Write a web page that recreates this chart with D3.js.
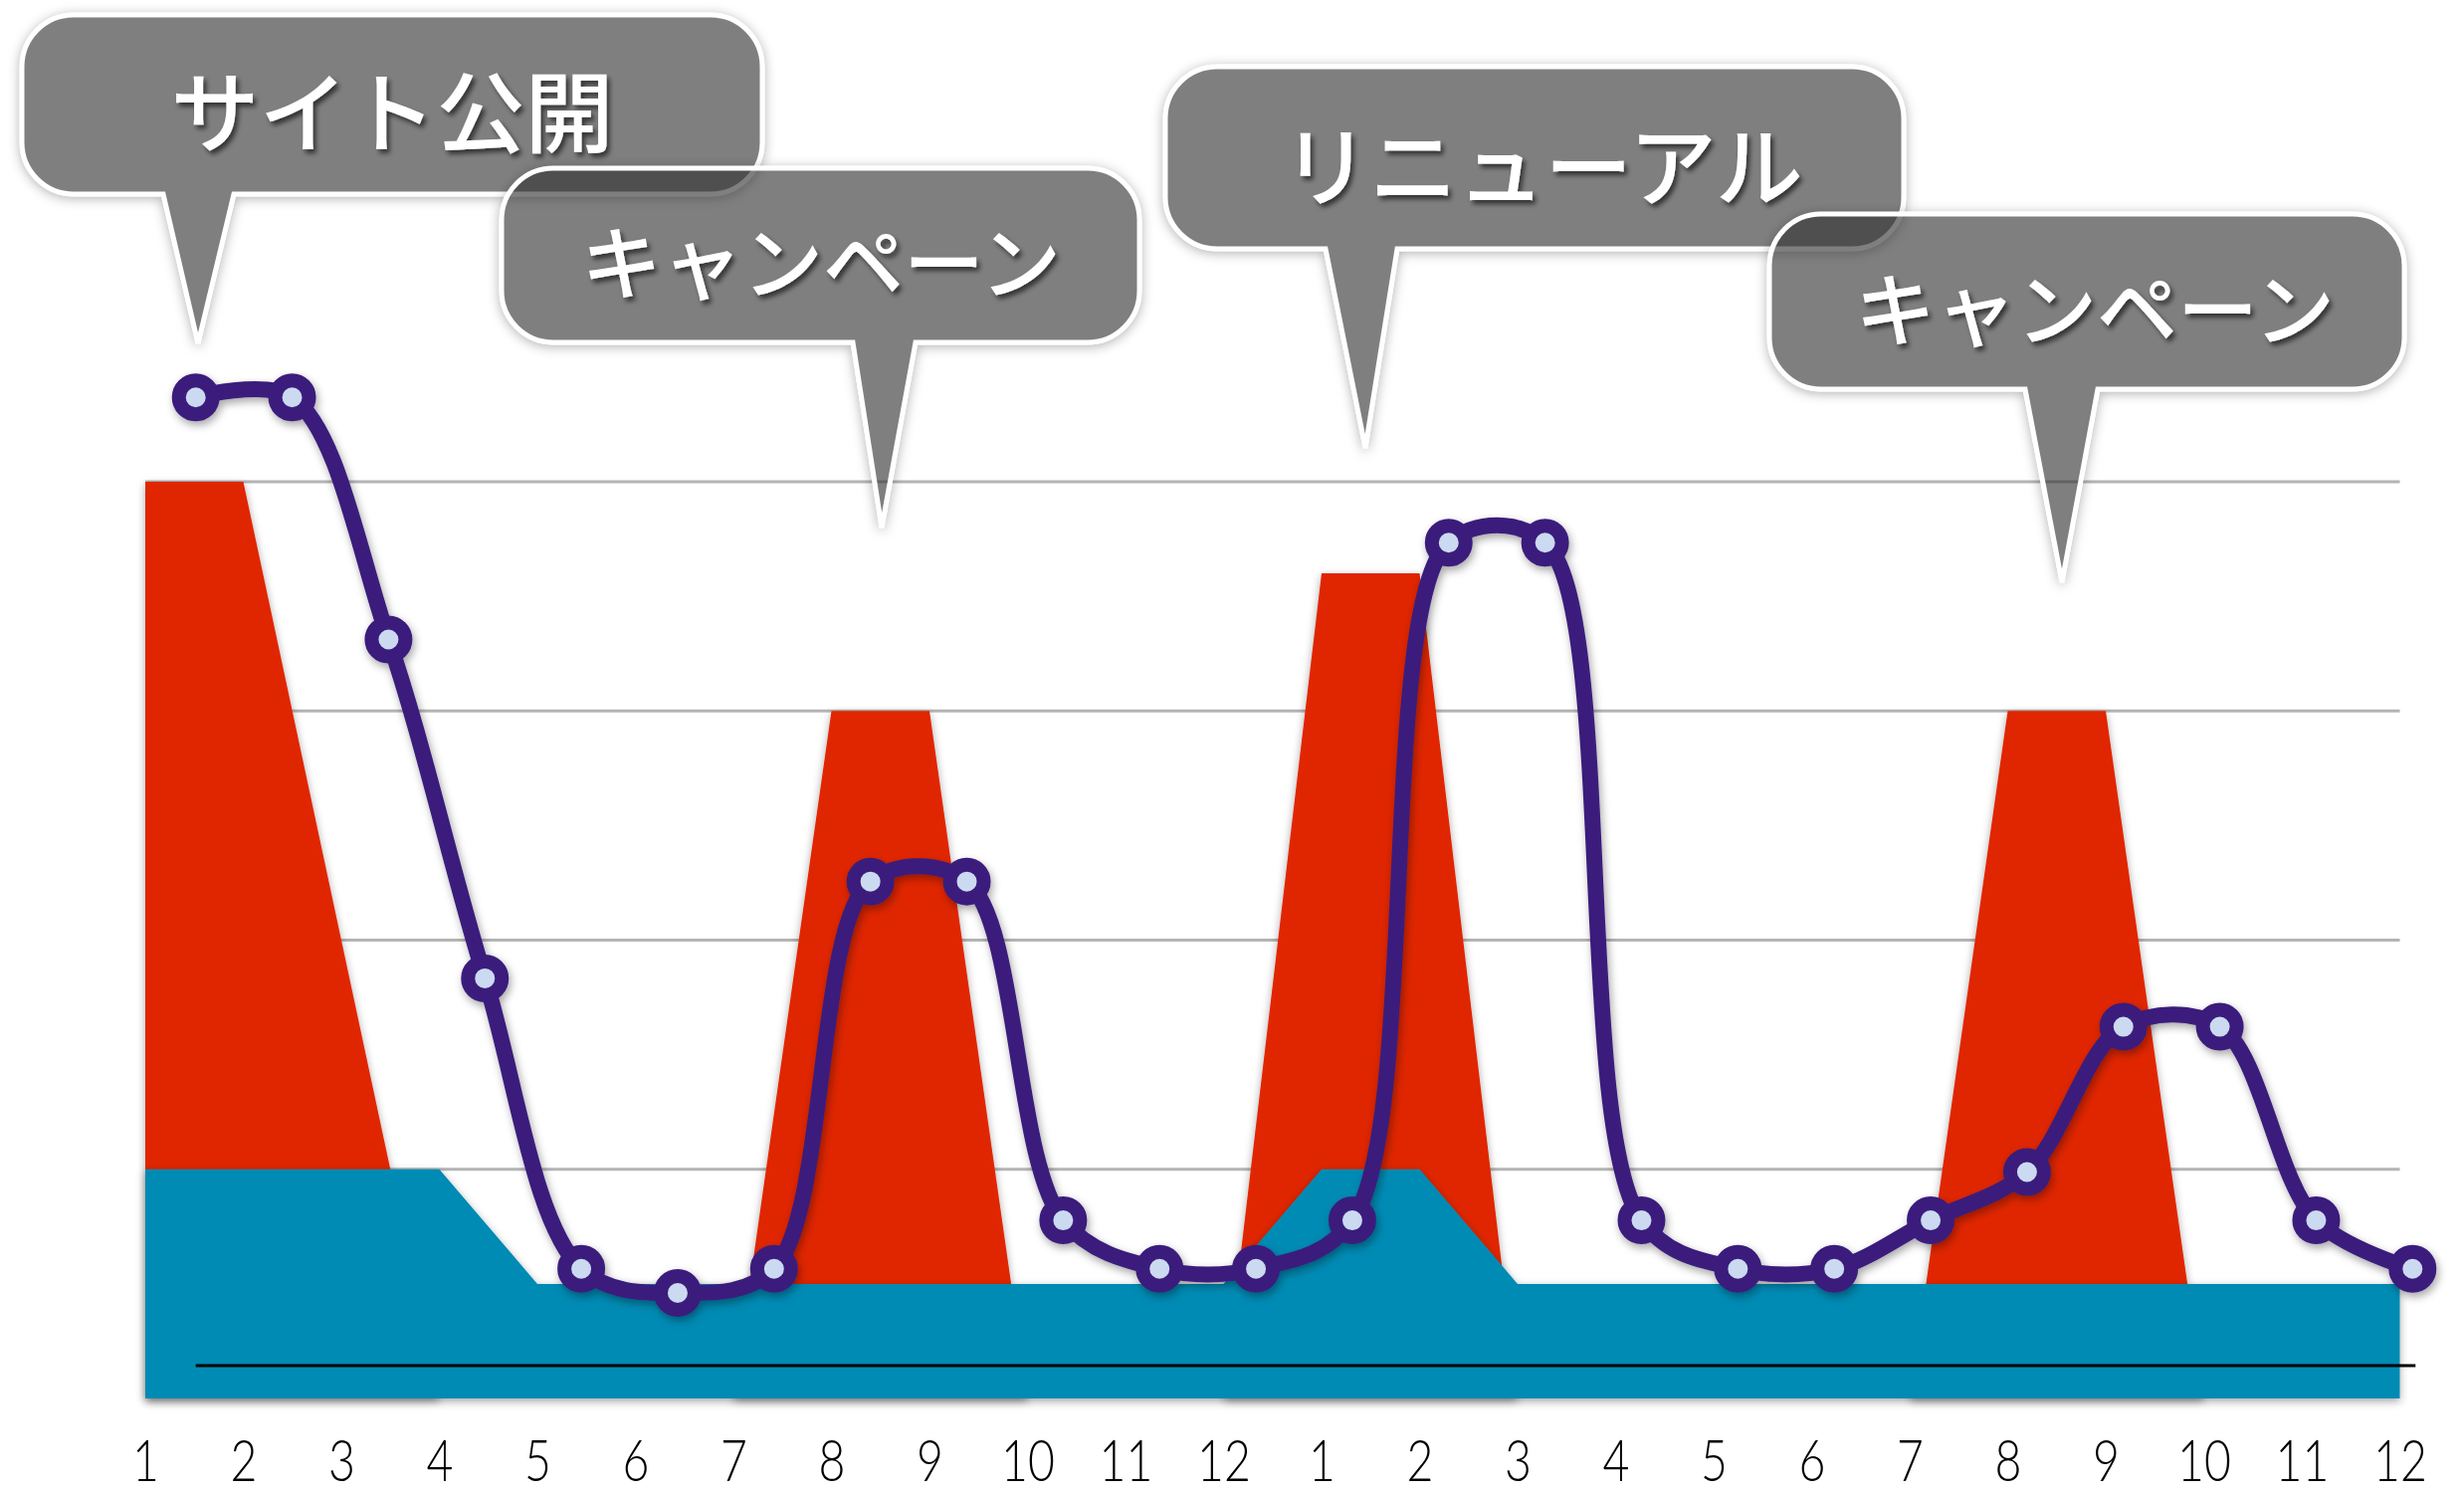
<!DOCTYPE html>
<html>
<head>
<meta charset="utf-8">
<script src="https://cdn.jsdelivr.net/npm/d3@7"></script>
<style>
  body { margin: 0; background: #fff; }
  svg { display: block; }
</style>
</head>
<body>
<svg id="chart" width="2476" height="1502"></svg>
<script>
// month labels along the bottom (two years)
var months = ["1","2","3","4","5","6","7","8","9","10","11","12",
              "1","2","3","4","5","6","7","8","9","10","11","12"];

// red area (campaign effort), blue area (base), purple line (visits)
var redValues  = [4, 4, 2, 0, 0, 0, 0, 3, 3, 0, 0, 0, 3.6, 3.6, 0, 0, 0, 0, 0, 3, 3, 0, 0, 0];
var blueValues = [1, 1, 1, 1, 0.5, 0.5, 0.5, 0.5, 0.5, 0.5, 0.5, 0.5, 1, 1, 0.5, 0.5, 0.5, 0.5, 0.5, 0.5, 0.5, 0.5, 0.5, 0.5];
var lineValues = [20, 20, 15, 8, 2, 1.5, 2, 10, 10, 3, 2, 2, 3, 17, 17, 3, 2, 2, 3, 4, 7, 7, 3, 2];
var gridValues = [1, 2, 3, 4];

// annotation texts
var eventLabels = ["サイト公開", "キャンペーン", "リニューアル", "キャンペーン"];

var svg = d3.select("#chart"),
    width = +svg.attr("width"),
    height = +svg.attr("height");

var idx = d3.range(months.length);

// area chart scales
var xArea = d3.scalePoint().domain(idx).range([146, 2411.5]);
var yArea = d3.scaleLinear().domain([0, 4]).range([1405, 484]);

// line chart sits on its own axis
var xLine = d3.scalePoint().domain(idx).range([196.7, 2424.3]);
var yLine = d3.scaleLinear().domain([0, 20]).range([1372, 399.3]);

var defs = svg.append("defs");
function shadow(id, dx, dy, std, op) {
  var f = defs.append("filter").attr("id", id)
      .attr("x", "-20%").attr("y", "-20%").attr("width", "140%").attr("height", "140%");
  f.append("feDropShadow").attr("dx", dx).attr("dy", dy)
      .attr("stdDeviation", std).attr("flood-color", "#000").attr("flood-opacity", op);
}
shadow("areaShadow", 0, 3, 4, 0.35);
shadow("lineShadow", 2, 4, 4, 0.35);
shadow("textShadow", 3, 4, 2.5, 0.6);

// shadow only, cut out of the shape so the see-through bubble stays clean
var bs = defs.append("filter").attr("id", "bubbleShadow")
    .attr("x", "-20%").attr("y", "-20%").attr("width", "140%").attr("height", "140%");
bs.append("feGaussianBlur").attr("in", "SourceAlpha").attr("stdDeviation", 6).attr("result", "b");
bs.append("feOffset").attr("in", "b").attr("dy", 2).attr("result", "o");
bs.append("feFlood").attr("flood-color", "#000").attr("flood-opacity", 0.3).attr("result", "c");
bs.append("feComposite").attr("in", "c").attr("in2", "o").attr("operator", "in").attr("result", "s");
bs.append("feComposite").attr("in", "s").attr("in2", "SourceAlpha").attr("operator", "out");

// gridlines
svg.append("g").selectAll("line")
  .data(gridValues).enter().append("line")
    .attr("x1", xArea.range()[0]).attr("x2", xArea.range()[1])
    .attr("y1", function(d) { return yArea(d); })
    .attr("y2", function(d) { return yArea(d); })
    .attr("stroke", "#b4b4b4").attr("stroke-width", 3);

var area = d3.area()
    .x(function(d, i) { return xArea(i); })
    .y0(yArea(0))
    .y1(function(d) { return yArea(d); });

svg.append("path").datum(redValues)
    .attr("d", area).attr("fill", "#e02600")
    .attr("filter", "url(#areaShadow)");

svg.append("path").datum(blueValues)
    .attr("d", area).attr("fill", "#028bb4")
    .attr("filter", "url(#areaShadow)");

// base line of the line chart
svg.append("line")
    .attr("x1", xLine.range()[0]).attr("x2", xLine.range()[1] + 3)
    .attr("y1", yLine(0)).attr("y2", yLine(0))
    .attr("stroke", "#000").attr("stroke-width", 3);

// month labels
var xAxis = svg.append("g")
    .attr("transform", "translate(0,1444)")
    .call(d3.axisBottom(xArea).tickSize(0).tickFormat(function(d) { return months[d]; }));
xAxis.select(".domain").remove();
xAxis.selectAll("text")
    .attr("transform", "scale(0.8,1)")
    .style("font-family", "Lato, 'DejaVu Sans', sans-serif")
    .style("font-weight", 300)
    .style("font-size", "58px")
    .attr("fill", "#000");

// the purple line with markers
var lineG = svg.append("g").attr("filter", "url(#lineShadow)");
var line = d3.line()
    .x(function(d, i) { return xLine(i); })
    .y(function(d) { return yLine(d); })
    .curve(d3.curveCatmullRom.alpha(0.5));

lineG.append("path").datum(lineValues)
    .attr("d", line)
    .attr("fill", "none")
    .attr("stroke", "#3b1f7b")
    .attr("stroke-width", 16)
    .attr("stroke-linejoin", "round");

lineG.selectAll("circle")
  .data(lineValues).enter().append("circle")
    .attr("cx", function(d, i) { return xLine(i); })
    .attr("cy", function(d) { return yLine(d); })
    .attr("r", 17)
    .attr("fill", "#cbd9f1")
    .attr("stroke", "#3b1f7b")
    .attr("stroke-width", 14);

// speech bubbles (layout only)
var bubbles = [
  {x0: 22,   y0: 15,  x1: 766,  y1: 195, tl: 164,  tr: 235,  tx: 199,  ty: 345, fs: 89, cx: 394,  cy: 107},
  {x0: 504,  y0: 169, x1: 1145, y1: 344, tl: 857,  tr: 920,  tx: 886,  ty: 530, fs: 81, cx: 825,  cy: 258},
  {x0: 1171, y0: 67,  x1: 1913, y1: 250, tl: 1332, tr: 1404, tx: 1372, ty: 450, fs: 88, cx: 1550, cy: 161},
  {x0: 1778, y0: 215, x1: 2416, y1: 391, tl: 2035, tr: 2108, tx: 2072, ty: 585, fs: 81, cx: 2105, cy: 305}
];

function bubblePath(b) {
  var r = 52;
  return "M" + (b.x0 + r) + "," + b.y0 +
    "H" + (b.x1 - r) + "A" + r + "," + r + " 0 0 1 " + b.x1 + "," + (b.y0 + r) +
    "V" + (b.y1 - r) + "A" + r + "," + r + " 0 0 1 " + (b.x1 - r) + "," + b.y1 +
    "H" + b.tr + "L" + b.tx + "," + b.ty + "L" + b.tl + "," + b.y1 +
    "H" + (b.x0 + r) + "A" + r + "," + r + " 0 0 1 " + b.x0 + "," + (b.y1 - r) +
    "V" + (b.y0 + r) + "A" + r + "," + r + " 0 0 1 " + (b.x0 + r) + "," + b.y0 + "Z";
}

bubbles.forEach(function(b, i) {
  var g = svg.append("g");
  g.append("path")
      .attr("d", bubblePath(b))
      .attr("fill", "#000")
      .attr("stroke", "#000")
      .attr("stroke-width", 5)
      .attr("filter", "url(#bubbleShadow)");
  g.append("path")
      .attr("d", bubblePath(b))
      .attr("fill", "rgba(50,50,50,0.625)")
      .attr("stroke", "#fff")
      .attr("stroke-width", 5);
  g.append("text")
      .attr("x", b.cx).attr("y", b.cy)
      .attr("text-anchor", "middle")
      .attr("dominant-baseline", "central")
      .attr("fill", "#fff")
      .attr("filter", "url(#textShadow)")
      .style("font-family", "'Noto Sans CJK JP', sans-serif")
      .style("font-weight", 500)
      .style("font-size", b.fs + "px")
      .text(eventLabels[i]);
});
</script>
</body>
</html>
